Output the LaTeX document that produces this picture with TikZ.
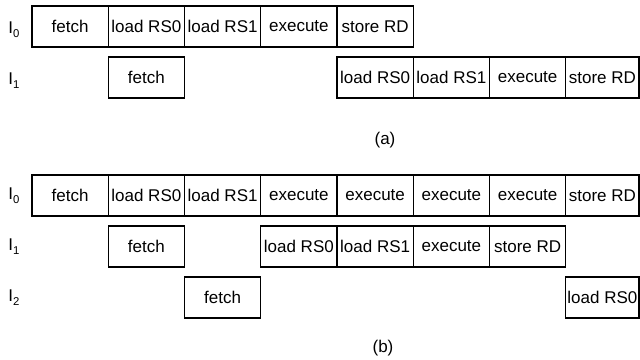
\documentclass[tikz,border=0pt]{standalone}
\usepackage{fontspec}
\setmainfont{Liberation Sans}
\begin{document}
\begin{tikzpicture}[x=0.75pt,y=-0.75pt,
  cell/.style={draw,line width=0.8pt,rectangle,anchor=north west,inner sep=0pt,outer sep=0pt,
    minimum width=57.19pt,minimum height=30.75pt,font=\fontsize{12.75}{14}\selectfont},
  lastcell/.style={cell,minimum width=54.94pt},
  rowlab/.style={font=\fontsize{12.75}{14}\selectfont,inner sep=0pt},
  captext/.style={font=\fontsize{12.75}{14}\selectfont,inner sep=0pt}]
\useasboundingbox (0,0) rectangle (640,360);
\newcommand\sub[1]{\lower0.45ex\hbox{\fontsize{8.5}{9}\selectfont #1}}
% (a)
\node[rowlab] (la0) at (14,30) {I\sub{0}};
\node[rowlab] (la1) at (14,81) {I\sub{1}};
\node[cell] (a00) at (32,6) {fetch};
\node[cell] (a01) at (108.25,6) {load RS0};
\node[cell] (a02) at (184.5,6) {load RS1};
\node[cell] (a03) at (260.75,6) {execute};
\node[cell] (a04) at (337,6) {store RD};
\node[cell] (a11) at (108.25,57) {fetch};
\node[cell] (a14) at (337,57) {load RS0};
\node[cell] (a15) at (413.25,57) {load RS1};
\node[cell] (a16) at (489.5,57) {execute};
\node[lastcell] (a17) at (565.75,57) {store RD};
\node[captext] (capa) at (385,140) {(a)};
% (b)
\node[rowlab] (lb0) at (14,195.5) {I\sub{0}};
\node[rowlab] (lb1) at (14,246.5) {I\sub{1}};
\node[rowlab] (lb2) at (14,297.5) {I\sub{2}};
\node[cell] (b00) at (32,175) {fetch};
\node[cell] (b01) at (108.25,175) {load RS0};
\node[cell] (b02) at (184.5,175) {load RS1};
\node[cell] (b03) at (260.75,175) {execute};
\node[cell] (b04) at (337,175) {execute};
\node[cell] (b05) at (413.25,175) {execute};
\node[cell] (b06) at (489.5,175) {execute};
\node[lastcell] (b07) at (565.75,175) {store RD};
\node[cell] (b11) at (108.25,226) {fetch};
\node[cell] (b13) at (260.75,226) {load RS0};
\node[cell] (b14) at (337,226) {load RS1};
\node[cell] (b15) at (413.25,226) {execute};
\node[cell] (b16) at (489.5,226) {store RD};
\node[cell] (b22) at (184.5,277) {fetch};
\node[lastcell] (b27) at (565.75,277) {load RS0};
\node[captext] (capb) at (383,348) {(b)};
\end{tikzpicture}
\end{document}
